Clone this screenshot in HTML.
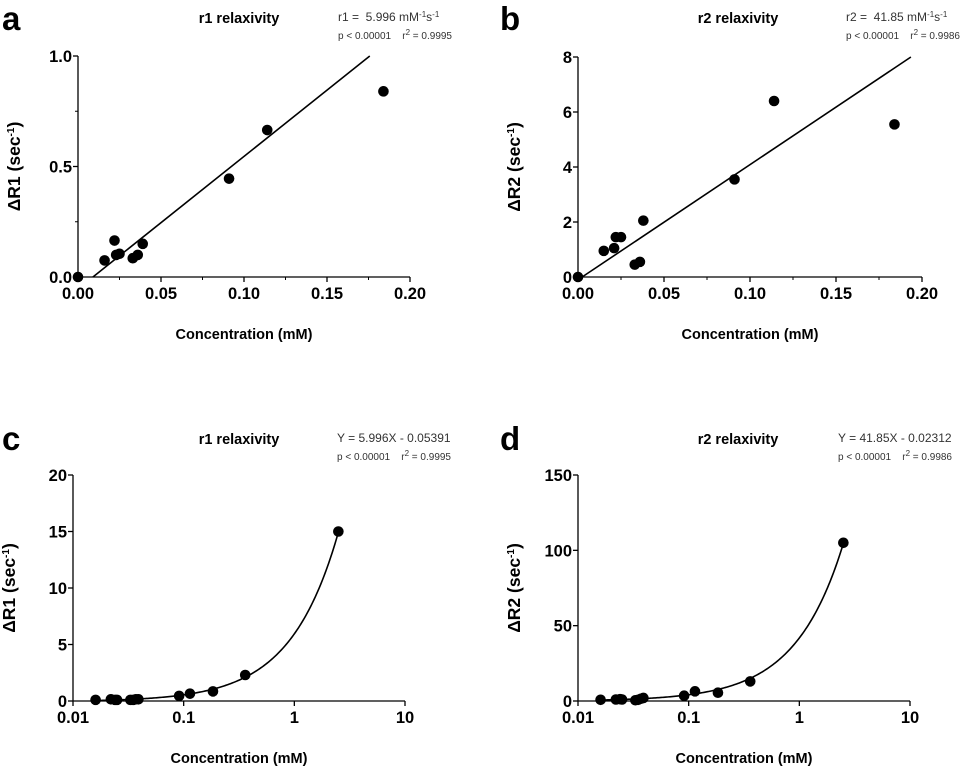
<!DOCTYPE html>
<html><head><meta charset="utf-8"><style>
html,body{margin:0;padding:0;background:#fff;}
svg{display:block;font-family:"Liberation Sans",sans-serif;}
</style></head><body>
<svg id="fig" width="974" height="771" viewBox="0 0 974 771"></svg>
<script>
const aX=[0,0.016,0.022,0.023,0.025,0.033,0.036,0.039,0.091,0.114,0.184];
const aY=[0,0.075,0.165,0.1,0.105,0.085,0.1,0.15,0.445,0.665,0.84];
const bX=[0,0.015,0.021,0.022,0.025,0.033,0.036,0.038,0.091,0.114,0.184];
const bY=[0,0.95,1.05,1.45,1.45,0.45,0.55,2.05,3.55,6.4,5.55];
const cX=[0.016,0.022,0.024,0.025,0.033,0.035,0.037,0.039,0.091,0.114,0.184,0.36,2.5];
const cY=[0.1,0.15,0.1,0.1,0.1,0.1,0.15,0.15,0.45,0.65,0.85,2.3,15];
const dX=[0.016,0.022,0.024,0.025,0.033,0.035,0.037,0.039,0.091,0.114,0.184,0.36,2.5];
const dY=[0.8,1.0,1.2,1.0,0.5,0.8,1.5,2.0,3.5,6.4,5.5,13,105];
const linTicksX=[0,0.05,0.1,0.15,0.2];
const linTickLabelsX=["0.00","0.05","0.10","0.15","0.20"];
const aTicksY=[0,0.5,1.0];const aTickLabelsY=["0.0","0.5","1.0"];
const bTicksY=[0,2,4,6,8];const bTickLabelsY=["0","2","4","6","8"];
const logTicksX=[0.01,0.1,1,10];const logTickLabelsX=["0.01","0.1","1","10"];
const cTicksY=[0,5,10,15,20];const cTickLabelsY=["0","5","10","15","20"];
const dTicksY=[0,50,100,150];const dTickLabelsY=["0","50","100","150"];
const fitA=[5.996,-0.0539];const fitB=[41.85,-0.1];
const fitC=[5.996,-0.05391];const fitD=[41.85,-0.02312];

const svg=document.getElementById('fig');
const NS='http://www.w3.org/2000/svg';
function mk(tag,at,parent){const e=document.createElementNS(NS,tag);for(const k in at)e.setAttribute(k,at[k]);(parent||svg).appendChild(e);return e;}
function txt(s,x,y,size,weight,anchor,g,fill){const t=mk('text',{x:x,y:y,'font-size':size,'font-weight':weight,'text-anchor':anchor,fill:fill||'#000'},g);t.innerHTML=s;return t;}

function panel(o){
 const g=mk('g',{});
 
 
 const sx=o.log?(v=>o.x0+(Math.log10(v)-Math.log10(o.xmin))/(Math.log10(o.xmax)-Math.log10(o.xmin))*(o.x1-o.x0)):(v=>o.x0+(v-o.xmin)/(o.xmax-o.xmin)*(o.x1-o.x0));
 const sy=v=>o.y0-(v-o.ymin)/(o.ymax-o.ymin)*(o.y0-o.y1);
 const l=txt(o.letter,o.lx,o.ly,33,'bold','start',g);
 
 const t=txt(o.title,o.tx,o.ty,14.5,'bold','middle',g);
 
 const s1=txt(o.stat1,o.sx,o.ty-2,12,'normal','start',g,'#333');
 
 const s2=txt('p &lt; 0.00001 &#160;&#160;&#160;r<tspan font-size="8" dy="-4">2</tspan><tspan dy="4"> = '+o.r2+'</tspan>',o.sx,o.ty+16,10,'normal','start',g,'#333');
 
 const ax=mk('path',{d:`M${o.x0},${o.y1}V${o.y0}H${o.x1}`,stroke:'#000','stroke-width':1.3,fill:'none'},g);
 
 o.ticksX.forEach((v,i)=>{const x=sx(v);mk('line',{x1:x,x2:x,y1:o.y0,y2:o.y0+5,stroke:'#000','stroke-width':1.3},g);
  const tl=txt(o.labX[i],x,o.y0+22,16.5,'bold','middle',g);
  if(!o.log&&i<o.ticksX.length-1){const xm=sx(v+(o.ticksX[1]-o.ticksX[0])/2);mk('line',{x1:xm,x2:xm,y1:o.y0,y2:o.y0+3,stroke:'#000','stroke-width':1},g);}
 });
 o.ticksY.forEach((v,i)=>{const y=sy(v);mk('line',{x1:o.x0-5,x2:o.x0,y1:y,y2:y,stroke:'#000','stroke-width':1.3},g);
  const tl=txt(o.labY[i],o.x0-6,y+6,16.5,'bold','end',g);
  if(o.minorY&&i<o.ticksY.length-1){const ym=sy(v+(o.ticksY[1]-o.ticksY[0])/2);mk('line',{x1:o.x0-3,x2:o.x0,y1:ym,y2:ym,stroke:'#000','stroke-width':1},g);}
 });
 const xt=txt('Concentration (mM)',(o.x0+o.x1)/2-o.xtOff,o.y0+62,14.5,'bold','middle',g);
 
 const yc=(o.y0+o.y1)/2;
 const yt=txt(o.ylab+' (sec<tspan font-size="10" dy="-6">-1</tspan><tspan dy="6">)</tspan>',0,0,17.5,'bold','middle',g);
 yt.setAttribute('transform',`translate(${o.x0-58},${yc}) rotate(-90)`);
 
 let pts=[];
 if(o.log){const a=Math.log10(o.fitFrom),b=Math.log10(o.fitTo);for(let i=0;i<=200;i++){const v=Math.pow(10,a+(b-a)*i/200);pts.push([sx(v),sy(o.fit[0]*v+o.fit[1])]);}}
 else{const xs=(0-o.fit[1])/o.fit[0];const xe=(o.ymax-o.fit[1])/o.fit[0];pts=[[sx(xs),sy(0)],[sx(xe),sy(o.ymax)]];}
 const fl=mk('polyline',{points:pts.map(p=>p.join(',')).join(' '),fill:'none',stroke:'#000','stroke-width':1.6},g);
 
 o.xs.forEach((v,i)=>{const c=mk('circle',{cx:sx(v),cy:sy(o.ys[i]),r:5.3,fill:'#000'},g);
  });
}
panel({letter:'a',lx:2,ly:30,title:'r1 relaxivity',tx:239,ty:23,sx:338,stat1:'r1 = &#160;5.996 mM<tspan font-size="8" dy="-4">-1</tspan><tspan dy="4">s</tspan><tspan font-size="8" dy="-4">-1</tspan>',r2:'0.9995',
 x0:78,x1:410,y0:277,y1:56,xmin:0,xmax:0.2,ymin:0,ymax:1,ticksX:linTicksX,labX:linTickLabelsX,ticksY:aTicksY,labY:aTickLabelsY,minorY:true,xtOff:0,ylab:'ΔR1',xs:aX,ys:aY,fit:fitA,log:false});
panel({letter:'b',lx:500,ly:30,title:'r2 relaxivity',tx:738,ty:23,sx:846,stat1:'r2 = &#160;41.85 mM<tspan font-size="8" dy="-4">-1</tspan><tspan dy="4">s</tspan><tspan font-size="8" dy="-4">-1</tspan>',r2:'0.9986',
 x0:578,x1:922,y0:277,y1:57,xmin:0,xmax:0.2,ymin:0,ymax:8,ticksX:linTicksX,labX:linTickLabelsX,ticksY:bTicksY,labY:bTickLabelsY,minorY:false,xtOff:0,ylab:'ΔR2',xs:bX,ys:bY,fit:fitB,log:false});
panel({letter:'c',lx:2,ly:450,title:'r1 relaxivity',tx:239,ty:444,sx:337,stat1:'Y = 5.996X - 0.05391',r2:'0.9995',
 x0:73,x1:405,y0:701,y1:475,xmin:0.01,xmax:10,ymin:0,ymax:20,ticksX:logTicksX,labX:logTickLabelsX,ticksY:cTicksY,labY:cTickLabelsY,minorY:false,xtOff:0,ylab:'ΔR1',xs:cX,ys:cY,fit:fitC,log:true,fitFrom:0.016,fitTo:2.5});
panel({letter:'d',lx:500,ly:450,title:'r2 relaxivity',tx:738,ty:444,sx:838,stat1:'Y = 41.85X - 0.02312',r2:'0.9986',
 x0:578,x1:910,y0:701,y1:475,xmin:0.01,xmax:10,ymin:0,ymax:150,ticksX:logTicksX,labX:logTickLabelsX,ticksY:dTicksY,labY:dTickLabelsY,minorY:false,xtOff:0,ylab:'ΔR2',xs:dX,ys:dY,fit:fitD,log:true,fitFrom:0.016,fitTo:2.5});
</script>
</body></html>
